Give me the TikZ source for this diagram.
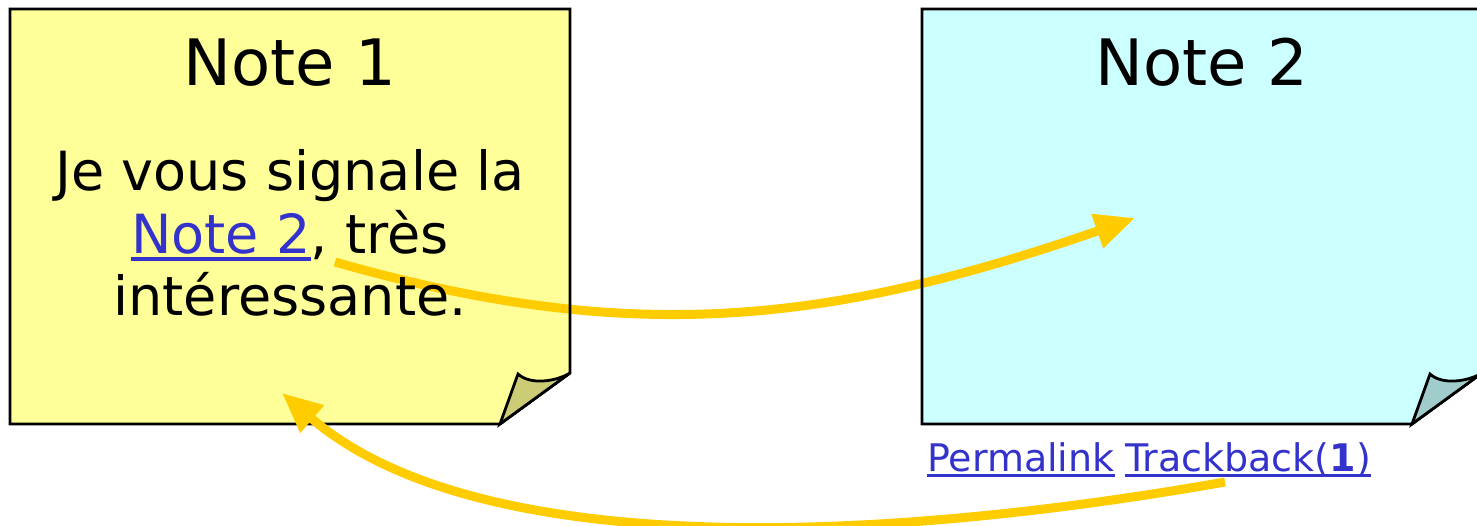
\documentclass[tikz,border=0pt]{standalone}
\usepackage{fontspec}
\setmainfont{DejaVu Sans}
\usetikzlibrary{positioning,arrows.meta}

\definecolor{noteyellow}{HTML}{FFFF99}
\definecolor{foldyellow}{HTML}{CCCC77}
\definecolor{notecyan}{HTML}{CCFFFF}
\definecolor{foldcyan}{HTML}{A0CCCC}
\definecolor{linkblue}{HTML}{3333CC}
\definecolor{pingyellow}{HTML}{FFCC00}

% underlined link text with a thick rule
\newcommand{\linkul}[3]{\setbox0\hbox{#1}\rlap{\rule[-#2]{\wd0}{#3}}\box0}

\tikzset{
  notebody/.style={draw=black, line width=2.8pt, line join=miter},
  notetitle/.style={anchor=base, inner sep=0pt, font=\fontsize{64}{70}\selectfont},
  noteline/.style={anchor=base, inner sep=0pt, font=\fontsize{54}{62}\selectfont},
  linkline/.style={anchor=base west, inner sep=0pt, text=linkblue, font=\fontsize{38}{44}\selectfont},
  ping/.style={-{Triangle[length=40pt,width=34pt]}, line width=9pt, draw=pingyellow},
}

\begin{document}
\begin{tikzpicture}[x=1pt,y=-1pt]
  \useasboundingbox (0,0) rectangle (1477,525);

  % paper of the notes
  \fill[noteyellow] (10,9) -- (570,9) -- (570,373) -- (500,424) -- (10,424) -- cycle;
  \fill[notecyan] (922,9) -- (1482,9) -- (1482,373) -- (1412,424) -- (922,424) -- cycle;

  % link from note 1 to note 2, under the edges
  \coordinate (from1) at (335,262);
  \coordinate (to1) at (1135,218);
  \draw[ping] (from1) .. controls (636,348) and (835,322) .. (to1);

  % edges and folded corners
  \draw[notebody] (10,9) -- (570,9) -- (570,373) -- (500,424) -- (10,424) -- cycle;
  \filldraw[notebody, fill=foldyellow] (500,424) -- (518,374) .. controls (530,385) and (555,382) .. (570,373) -- cycle;
  \draw[notebody] (1482,373) -- (1482,9) -- (922,9) -- (922,424) -- (1412,424) -- cycle;
  \filldraw[notebody, fill=foldcyan] (1412,424) -- (1430,374) .. controls (1442,385) and (1467,382) .. (1482,373) -- cycle;

  % trackback from note 2 to note 1
  \coordinate (from2) at (1225,482);
  \coordinate (to2) at (282,393);
  \draw[ping] (from2) .. controls (850,548) and (470,555) .. (to2);

  % texts
  \node[notetitle] (title1) at (290,85) {Note 1};
  \node[noteline] (line1) at (290,190) {Je vous signale la};
  \node[noteline] (line2) at (290,253) {\textcolor{linkblue}{\linkul{Note 2}{7.5pt}{3.5pt}}, très};
  \node[noteline] (line3) at (290,315) {intéressante.};
  \node[notetitle] (title2) at (1202,85) {Note 2};
  \node[linkline] (perma) at (927,471) {\linkul{Permalink}{6pt}{3pt}};
  \node[linkline, right=10pt of perma.base east, anchor=base west] (track) {\linkul{Trackback(\textbf{1})}{6pt}{3pt}};
\end{tikzpicture}
\end{document}
